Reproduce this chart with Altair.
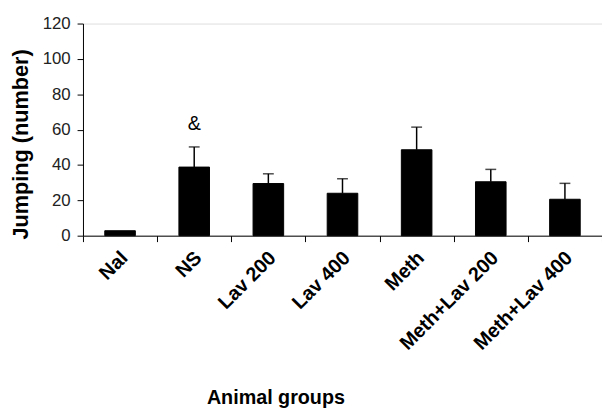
import altair as alt
import pandas as pd

groups = ["Nal", "NS", "Lav 200", "Lav 400", "Meth", "Meth+Lav 200", "Meth+Lav 400"]
means = [2.8, 38.8, 29.5, 24.0, 48.6, 30.5, 20.6]
errors = [0.0, 11.4, 5.5, 8.2, 12.8, 7.0, 9.0]
marks = ["", "&", "", "", "", "", ""]
mark_pos = [None, 63, None, None, None, None, None]
y_ticks = [0, 20, 40, 60, 80, 100, 120]

df = pd.DataFrame({
    "group": groups,
    "mean": means,
    "upper": [m + e for m, e in zip(means, errors)],
    "has_err": [e > 0 for e in errors],
})
ann = pd.DataFrame({"group": groups, "label": marks, "pos": mark_pos}).dropna()

FONT = "Liberation Sans"

common = dict(domainColor="#000", tickColor="#000", tickSize=6,
              titleFont=FONT, titleFontWeight="bold",
              titleColor="#000", labelFont=FONT, labelOverlap=False)

x_axis = alt.Axis(title="Animal groups", labelAngle=-45, tickBand="extent",
                  titleX=195, titleY=170, titleBaseline="alphabetic",
                  titleFontSize=20,
                  labelFontSize=20, labelFontWeight="bold", labelColor="#000",
                  labelPadding=6, labelOffset=-3, **common)
y_axis = alt.Axis(title="Jumping (number)", values=y_ticks, grid=False,
                  titleX=-63, titleY=122, titleAlign="center",
                  titleBaseline="middle", titleFontSize=22,
                  labelFontSize=17, labelColor="#222",
                  labelPadding=7, **common)
xscale = alt.Scale(paddingInner=0, paddingOuter=0)
yscale = alt.Scale(domain=[0, 120], nice=False)


def xe():
    return alt.X("group:N", sort=groups, scale=xscale, axis=x_axis)


def ye(field):
    return alt.Y(field, scale=yscale, axis=y_axis)


bars = alt.Chart(df).mark_bar(size=31, color="#000", stroke="#000").encode(
    x=xe(), y=ye("mean:Q"),
)

err_df = df[df["has_err"]]
err = alt.Chart(err_df).mark_rule(color="#000", strokeWidth=1.5).encode(
    x=xe(), y=ye("mean:Q"), y2="upper:Q",
)
caps = alt.Chart(err_df).mark_tick(color="#000", size=11, thickness=1.5, orient="horizontal").encode(
    x=xe(), y=ye("upper:Q"),
)
text = alt.Chart(ann).mark_text(font=FONT, fontSize=20, color="#000", baseline="middle").encode(
    x=xe(), y=ye("pos:Q"), text="label:N",
)

chart = (
    alt.layer(bars, err, caps, text)
    .properties(
        width=526,
        height=215,
        autosize=alt.AutoSizeParams(type="none"),
        padding={"left": 76, "top": 13, "right": 0, "bottom": 180},
    )
    .configure_view(stroke=None)
    .configure(background="white")
)

chart.save("out.html", embed_options={"renderer": "svg", "actions": False})
